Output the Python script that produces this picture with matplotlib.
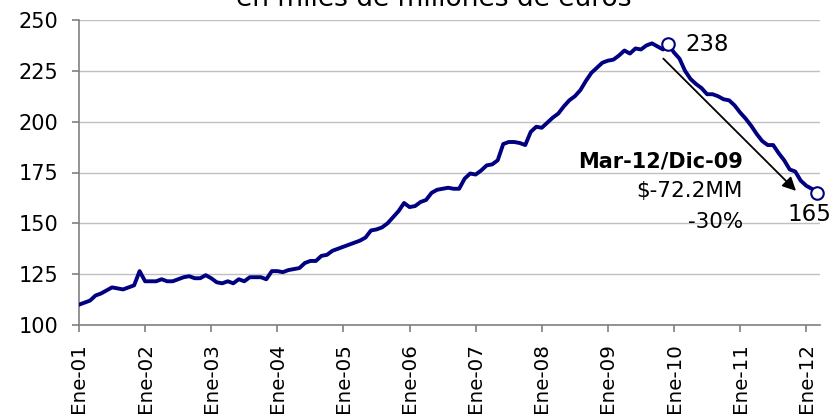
import numpy as np
import matplotlib
matplotlib.use('Agg')
import matplotlib.pyplot as plt

# monthly values, Ene-01 .. Mar-12 (miles de millones de euros)
values = [
    110.0, 111.0, 112.0, 114.5, 115.5, 117.0, 118.5, 118.0, 117.5, 118.5, 119.5, 126.5,
    121.5, 121.5, 121.5, 122.5, 121.5, 121.5, 122.5, 123.5, 124.0, 123.0, 123.0, 124.5,
    123.0, 121.0, 120.5, 121.5, 120.5, 122.5, 121.5, 123.5, 123.5, 123.5, 122.5, 126.5,
    126.5, 126.0, 127.0, 127.5, 128.0, 130.5, 131.5, 131.5, 134.0, 134.5, 136.5, 137.5,
    138.5, 139.5, 140.5, 141.5, 143.0, 146.5, 147.0, 148.0, 150.0, 153.0, 156.0, 160.0,
    158.0, 158.5, 160.5, 161.5, 165.0, 166.5, 167.0, 167.5, 167.0, 167.0, 172.0, 174.5,
    174.0, 176.0, 178.5, 179.0, 181.0, 189.0, 190.0, 190.0, 189.5, 188.5, 195.0, 197.5,
    197.0, 199.5, 202.0, 204.0, 207.5, 210.5, 212.5, 215.5, 220.0, 224.0, 226.5, 229.0,
    230.0, 230.5, 232.5, 235.0, 233.5, 236.0, 235.5, 237.5, 238.5, 237.0, 235.5, 238.0,
    234.0, 231.0, 225.0, 221.0, 218.5, 216.5, 213.5, 213.5, 212.5, 211.0, 210.5, 208.0,
    204.5, 201.5, 198.0, 194.0, 190.5, 188.5, 188.5, 184.5, 181.0, 176.5, 175.5, 171.0,
    168.5, 167.0, 165.0,
]
tick_labels = ['Ene-%02d' % y for y in range(1, 13)]
peak_idx = 107           # Dic-09
last_idx = len(values) - 1  # Mar-12
title = 'en miles de millones de euros'
note_lines = ['Mar-12/Dic-09', '$-72.2MM', '-30%']

x = np.arange(len(values))
navy = '#000080'

fig = plt.figure(figsize=(8.34, 4.16), dpi=100)
ax = fig.add_axes([79 / 834, 1 - 325 / 416, 741 / 834, 305 / 416])

ax.plot(x, values, color=navy, lw=2.8, solid_joinstyle='round', zorder=3)
ax.plot([peak_idx, last_idx], [values[peak_idx], values[last_idx]], 'o',
        ms=9, mfc='white', mec=navy, mew=1.5, zorder=4, clip_on=False)

ax.set_xlim(0, 134.5)
ax.set_ylim(100, 250)
ax.set_yticks(np.arange(100, 251, 25))
ax.set_xticks(np.arange(0, 12 * len(tick_labels), 12))
ax.set_xticklabels(tick_labels, rotation=90, va='top')
ax.grid(axis='y', color='#c0c0c0', lw=1.0)
ax.set_axisbelow(True)
for s in ['top', 'right']:
    ax.spines[s].set_visible(False)
for s in ['left', 'bottom']:
    ax.spines[s].set_color('#808080')
    ax.spines[s].set_linewidth(1.2)
ax.tick_params(axis='both', colors='#808080', length=5, width=1.2, labelcolor='black', labelsize=15)
ax.tick_params(axis='y', pad=10)
ax.tick_params(axis='x', pad=8, labelsize=14.3)

# value labels
ax.annotate('%.0f' % values[peak_idx], (peak_idx, values[peak_idx]), xytext=(17, 0),
            textcoords='offset pixels', ha='left', va='center', fontsize=16.5)
ax.annotate('%.0f' % values[last_idx], (last_idx, values[last_idx]), xytext=(-30, -22),
            textcoords='offset pixels', ha='left', va='center', fontsize=16.5,
            annotation_clip=False)

# arrow from peak to end
ax.annotate('', xy=(130.5, 165), xytext=(105.7, 232),
            arrowprops=dict(arrowstyle='-|>', color='black', lw=1.3, mutation_scale=20))

fig.text(743 / 834, 1 - 161 / 416, note_lines[0], ha='right', va='center',
         fontsize=15, fontweight='bold')
fig.text(743 / 834, 1 - 191 / 416, note_lines[1], ha='right', va='center', fontsize=15.5)
fig.text(743 / 834, 1 - 222 / 416, note_lines[2], ha='right', va='center', fontsize=15.5)

fig.text(434 / 834, 1 - 6 / 416, title, ha='center', va='baseline', fontsize=19)

fig.savefig('out.png', dpi=100)
